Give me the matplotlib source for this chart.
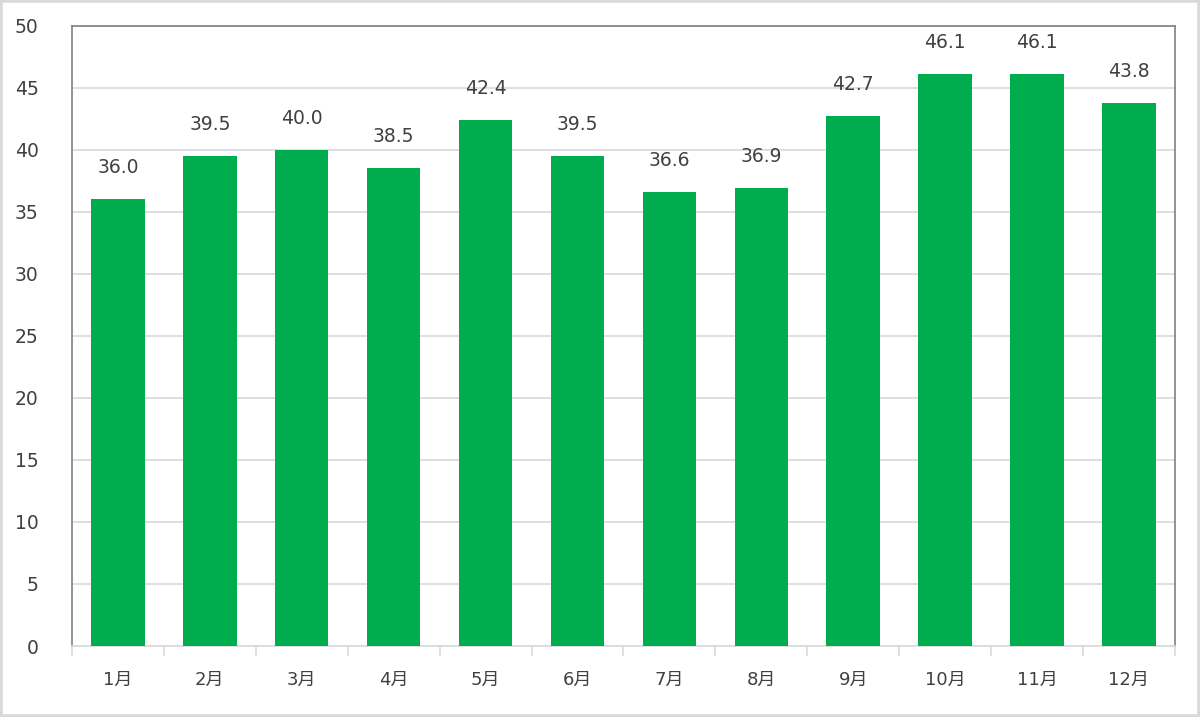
import matplotlib.pyplot as plt
from matplotlib.patches import Rectangle

plt.rcParams['font.family'] = ['DejaVu Sans', 'Noto Sans CJK JP']

months = ["1月", "2月", "3月", "4月", "5月", "6月",
          "7月", "8月", "9月", "10月", "11月", "12月"]
values = [36.0, 39.5, 40.0, 38.5, 42.4, 39.5, 36.6, 36.9, 42.7, 46.1, 46.1, 43.8]
yticks = [0, 5, 10, 15, 20, 25, 30, 35, 40, 45, 50]

text_color = "#404040"
green = "#00AD4E"


def main():
    fig = plt.figure(figsize=(12, 7.17), dpi=100)
    fig.patches.append(Rectangle((0, 0), 1, 1, transform=fig.transFigure,
                                 fill=False, edgecolor="#d9d9d9", linewidth=4))
    ax = fig.add_axes([0.06, 0.099, 0.919, 0.865])

    x = range(len(months))
    ax.bar(x, values, width=0.58, color=green, zorder=3)
    for i, v in enumerate(values):
        ax.text(i, v + 2.55, f"{v:.1f}", ha="center", va="center",
                fontsize=13.5, color=text_color)

    ax.set_xlim(-0.5, len(months) - 0.5)
    ax.set_ylim(0, 50)
    ax.set_yticks(yticks)
    ax.set_yticklabels([str(t) for t in yticks], fontsize=13.5, color=text_color)
    ax.yaxis.grid(True, color="#d9d9d9", linewidth=1.2, zorder=0)
    ax.tick_params(axis="y", length=0, pad=24)

    ax.set_xticks(list(x))
    ax.set_xticklabels(months, fontsize=13, color=text_color)
    ax.set_xticks([i - 0.5 for i in range(len(months) + 1)], minor=True)
    ax.tick_params(axis="x", which="major", length=0, pad=18)
    ax.tick_params(axis="x", which="minor", length=7, color="#d9d9d9", width=1.2)

    for s in ["left", "top", "right"]:
        ax.spines[s].set_color("#808080")
        ax.spines[s].set_linewidth(1.2)
    ax.spines["bottom"].set_color("#d9d9d9")
    ax.spines["bottom"].set_linewidth(1.2)

    fig.savefig("out.png", dpi=100)


if __name__ == "__main__":
    main()
